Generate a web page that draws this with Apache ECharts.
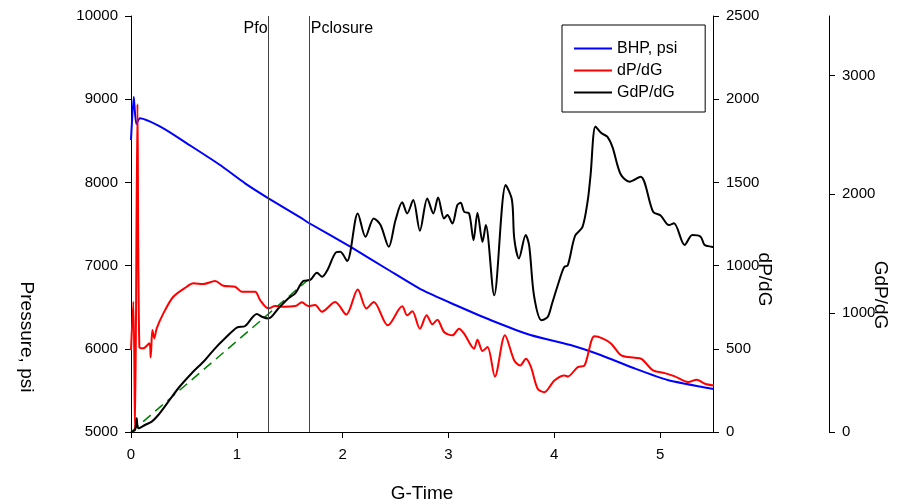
<!DOCTYPE html>
<html><head><meta charset="utf-8">
<script src="https://cdn.jsdelivr.net/npm/echarts@6/dist/echarts.min.js"></script>
<style>html,body{margin:0;padding:0;background:#fff}#c{width:897px;height:504px}</style>
</head><body><div id="c"></div>
<script>
// ---- data ----
const bhpG = [0, 0.026, 0.050, 0.085, 0.306, 0.527, 0.842, 1.078, 1.299, 1.599, 1.677, 2.072, 2.434, 2.750, 3.065, 3.396, 3.775, 4.153, 4.437, 4.749, 5.071, 5.506];
const bhp = [8510, 9030, 8702, 8770, 8650, 8470, 8209, 7989, 7809, 7580, 7515, 7227, 6947, 6707, 6526, 6346, 6166, 6045, 5925, 5769, 5625, 5517];

const dpG = [0, 0.022, 0.038, 0.061, 0.079, 0.116, 0.173, 0.186, 0.202, 0.220, 0.243, 0.306, 0.400, 0.527, 0.589, 0.684, 0.795, 0.873, 0.984, 1.047, 1.173, 1.220, 1.299, 1.362, 1.426, 1.552, 1.615, 1.677, 1.741, 1.804, 1.930, 2.034, 2.143, 2.225, 2.294, 2.427, 2.563, 2.610, 2.658, 2.730, 2.794, 2.848, 2.895, 2.958, 3.037, 3.100, 3.148, 3.242, 3.274, 3.322, 3.369, 3.439, 3.534, 3.622, 3.678, 3.732, 3.780, 3.843, 3.906, 4.001, 4.097, 4.128, 4.222, 4.286, 4.380, 4.460, 4.538, 4.634, 4.760, 4.823, 4.934, 5.044, 5.139, 5.266, 5.345, 5.424, 5.509];
const dpdg = [493, 783, 6, 1971, 511, 503, 533, 449, 613, 563, 623, 713, 813, 873, 894, 889, 907, 879, 873, 843, 843, 793, 743, 757, 753, 757, 779, 757, 763, 723, 781, 706, 856, 742, 781, 641, 755, 701, 725, 621, 701, 647, 675, 601, 581, 621, 591, 501, 555, 487, 511, 334, 581, 430, 400, 440, 390, 260, 239, 310, 340, 334, 390, 400, 575, 561, 531, 460, 446, 440, 370, 354, 334, 300, 314, 290, 279];

const gdG = [0, 0.038, 0.054, 0.069, 0.132, 0.196, 0.258, 0.353, 0.447, 0.574, 0.700, 0.795, 0.889, 1.000, 1.079, 1.189, 1.237, 1.299, 1.394, 1.488, 1.552, 1.630, 1.693, 1.757, 1.807, 1.859, 1.939, 1.978, 2.042, 2.143, 2.216, 2.294, 2.358, 2.436, 2.500, 2.563, 2.610, 2.667, 2.730, 2.800, 2.857, 2.902, 2.958, 2.990, 3.037, 3.084, 3.116, 3.148, 3.195, 3.237, 3.274, 3.322, 3.353, 3.432, 3.541, 3.600, 3.622, 3.666, 3.730, 3.763, 3.809, 3.879, 3.938, 3.980, 4.033, 4.093, 4.128, 4.196, 4.267, 4.317, 4.343, 4.390, 4.447, 4.501, 4.551, 4.626, 4.711, 4.815, 4.934, 5.005, 5.083, 5.131, 5.232, 5.305, 5.383, 5.421, 5.487, 5.506];
const gdpdg = [0, 17, 115, 31, 59, 87, 143, 255, 368, 494, 606, 704, 788, 879, 892, 993, 970, 955, 1041, 1125, 1167, 1272, 1279, 1339, 1306, 1367, 1512, 1516, 1439, 1839, 1642, 1797, 1741, 1558, 1783, 1932, 1839, 1952, 1693, 1965, 1839, 1974, 1797, 1825, 1755, 1909, 1929, 1853, 1839, 1614, 1845, 1600, 1741, 1150, 2078, 1952, 1628, 1460, 1657, 1567, 1144, 941, 967, 1083, 1235, 1387, 1403, 1649, 1726, 1952, 2162, 2570, 2513, 2485, 2394, 2171, 2106, 2148, 1853, 1821, 1741, 1756, 1573, 1657, 1643, 1573, 1559, 1556];

const tangentG = [0, 1.68];
const tangentV = [0, 1285];

const eventG = [1.30, 1.68];
const eventLabels = ['Pfo', 'Pclosure'];

const xTicks = [0, 1, 2, 3, 4, 5];
const gdTicks = [0, 1000, 2000, 3000];

// ---- chart ----
const FONT = '"Liberation Sans", Arial, sans-serif';
function pairs(a, b) { const n = Math.min(a.length, b.length); const r = []; for (let i = 0; i < n; i++) r.push([a[i], b[i]]); return r; }
const chart = echarts.init(document.getElementById('c'), null, { renderer: 'canvas' });

const axisCommon = {
  axisLine: { show: true, lineStyle: { color: '#000', width: 1 } },
  axisTick: { show: true, inside: false, length: 6, lineStyle: { color: '#000', width: 1 } },
  splitLine: { show: false },
  nameLocation: 'middle',
  nameMoveOverlap: false,
};
const nameStyle = (pad) => ({ fontSize: 19, fontFamily: FONT, color: '#000', padding: [0, 0, 0, pad] });
const plain = v => String(v);
const labelStyle = { fontSize: 15, fontFamily: FONT, color: '#000', formatter: plain };

const option = {
  animation: false,
  backgroundColor: '#fff',
  grid: { left: 131, right: 184, top: 16, bottom: 72, containLabel: false, outerBoundsMode: 'none' },
  legend: {
    data: ['BHP, psi', 'dP/dG', 'GdP/dG'],
    orient: 'vertical', left: 562, top: 25,
    icon: 'rect', itemWidth: 38, itemHeight: 2, itemGap: 5, itemTextGap: 10,
    padding: [15, 28, 11, 12],
    borderColor: '#000', borderWidth: 1, backgroundColor: '#fff',
    textStyle: { fontSize: 16, fontFamily: FONT, color: '#000', lineHeight: 17 },
    selectedMode: false
  },
  xAxis: Object.assign({}, axisCommon, {
    type: 'value', min: 0, max: 5.5, interval: 1,
    name: 'G-Time', nameGap: 52, nameTextStyle: nameStyle(0),
    axisTick: Object.assign({}, axisCommon.axisTick, { customValues: xTicks }),
    axisLabel: Object.assign({}, labelStyle, { margin: 15, customValues: xTicks })
  }),
  yAxis: [
    Object.assign({}, axisCommon, {
      type: 'value', position: 'left', min: 5000, max: 10000, interval: 1000,
      name: 'Pressure, psi', nameRotate: -90, nameGap: 95, nameTextStyle: nameStyle(226),
      axisLabel: Object.assign({}, labelStyle, { margin: 13 })
    }),
    Object.assign({}, axisCommon, {
      type: 'value', position: 'right', offset: 0, min: 0, max: 2500, interval: 500,
      name: 'dP/dG', nameRotate: -90, nameGap: 42, nameTextStyle: nameStyle(111),
      axisLabel: Object.assign({}, labelStyle, { margin: 13 })
    }),
    Object.assign({}, axisCommon, {
      type: 'value', position: 'right', offset: 116, min: 0, max: 3500, interval: 1000,
      name: 'GdP/dG', nameRotate: -90, nameGap: 42, nameTextStyle: nameStyle(142),
      axisTick: Object.assign({}, axisCommon.axisTick, { customValues: gdTicks }),
      axisLabel: Object.assign({}, labelStyle, { margin: 13, customValues: gdTicks })
    })
  ],
  series: [
    {
      name: 'BHP, psi', type: 'line', yAxisIndex: 0, data: pairs(bhpG, bhp),
      symbol: 'none', smooth: 0.2, lineStyle: { color: '#0000ff', width: 2 }, itemStyle: { color: '#0000ff' }, z: 3
    },
    {
      name: 'dP/dG', type: 'line', yAxisIndex: 1, data: pairs(dpG, dpdg),
      symbol: 'none', smooth: 0.3, lineStyle: { color: '#ff0000', width: 2 }, itemStyle: { color: '#ff0000' }, z: 3
    },
    {
      name: 'GdP/dG', type: 'line', yAxisIndex: 2, data: pairs(gdG, gdpdg),
      symbol: 'none', smooth: 0.3, lineStyle: { color: '#000000', width: 2 }, itemStyle: { color: '#000000' }, z: 4
    },
    {
      name: 'tangent', type: 'line', yAxisIndex: 2, data: pairs(tangentG, tangentV),
      symbol: 'none', lineStyle: { color: '#008000', width: 1.5, type: [10, 6] }, z: 2,
      markLine: {
        silent: true, symbol: ['none', 'none'], animation: false,
        label: { show: false },
        lineStyle: { color: '#444', width: 1, type: 'solid' },
        data: eventG.map(g => ({ xAxis: g }))
      }
    }
  ]
};
chart.setOption(option);

// event labels positioned through the axis scale
const topY = chart.convertToPixel({ yAxisIndex: 0 }, 10000);
const texts = eventG.map((g, i) => {
  const px = chart.convertToPixel({ xAxisIndex: 0 }, g);
  const right = i === 0;
  return {
    type: 'text', x: right ? px - 1 : px + 2, y: topY + 13,
    style: { text: eventLabels[i], font: '16px ' + FONT, fill: '#000', textAlign: right ? 'right' : 'left', textVerticalAlign: 'middle' },
    z: 10
  };
});
chart.setOption({ graphic: texts });
</script>
</body></html>
